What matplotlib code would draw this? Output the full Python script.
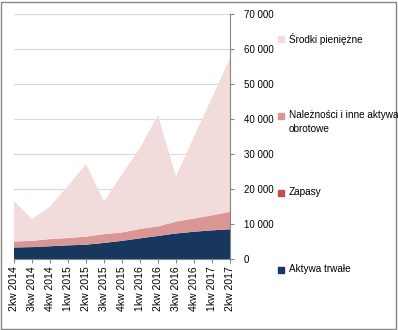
import numpy as np
import matplotlib.pyplot as plt
from matplotlib.patches import Rectangle

# Data
quarters = ['2kw 2014', '3kw 2014', '4kw 2014', '1kw 2015', '2kw 2015', '3kw 2015', '4kw 2015',
            '1kw 2016', '2kw 2016', '3kw 2016', '4kw 2016', '1kw 2017', '2kw 2017']
aktywa_trwale = [3300, 3400, 3650, 3900, 4100, 4600, 5200, 5900, 6600, 7300, 7800, 8200, 8500]
zapasy = [0, 0, 0, 0, 0, 0, 0, 0, 0, 0, 0, 0, 0]
naleznosci = [1700, 1800, 2050, 2100, 2300, 2500, 2400, 2700, 2700, 3400, 3800, 4300, 5000]
srodki = [11600, 6200, 9300, 14900, 20800, 9300, 16600, 23200, 31900, 12900, 23400, 33700, 43900]

series = [aktywa_trwale, zapasy, naleznosci, srodki]
names = ['Aktywa trwałe', 'Zapasy', 'Należności i inne aktywa\nobrotowe', 'Środki pieniężne']
colors = ['#17375e', '#c0504d', '#d99694', '#f2dcdb']

plt.rcParams['font.family'] = ['Liberation Sans', 'DejaVu Sans']

fig = plt.figure(figsize=(3.98, 3.30), dpi=100)
ax = fig.add_axes([14 / 398, 1 - 259 / 330, 216 / 398, (259 - 14.3) / 330])

x = np.arange(len(quarters))
ax.stackplot(x, *series, colors=colors, linewidth=0)

ax.set_xlim(0, len(quarters) - 1)
ax.set_ylim(0, 70000)
ax.set_yticks(np.arange(0, 70001, 10000))
ax.set_yticklabels(['0' if v == 0 else f'{v // 1000} 000' for v in range(0, 70001, 10000)], fontsize=7)
ax.yaxis.tick_right()
ax.tick_params(axis='y', length=3, color='#868686', pad=7, labelcolor='#000000')
ax.set_xticks(x)
ax.set_xticklabels(quarters, rotation=90, fontsize=7.5)
ax.tick_params(axis='x', length=3, color='#868686', pad=2)

ax.grid(axis='y', color='#d9d9d9', linewidth=0.8)
ax.set_axisbelow(True)
for s in ['top', 'left']:
    ax.spines[s].set_visible(False)
ax.spines['right'].set_color('#868686')
ax.spines['bottom'].set_color('#868686')

# Legend drawn by hand at Excel positions
legend_y = [270, 193, 116, 39]
for name, col, ly in zip(names, colors, legend_y):
    fig.patches.append(Rectangle((278 / 398, 1 - (ly + 3) / 330), 6 / 398, 6 / 330,
                                 transform=fig.transFigure, color=col))
    fig.text(289 / 398, 1 - (ly - 6) / 330, name, fontsize=7.2, va='top', ha='left',
             linespacing=1.55)

# chart border
fig.patches.append(Rectangle((1 / 398, 1 / 330), 395 / 398, 327 / 330, transform=fig.transFigure,
                             fill=False, edgecolor='#868686', linewidth=1))

plt.savefig('out.png', dpi=100)
